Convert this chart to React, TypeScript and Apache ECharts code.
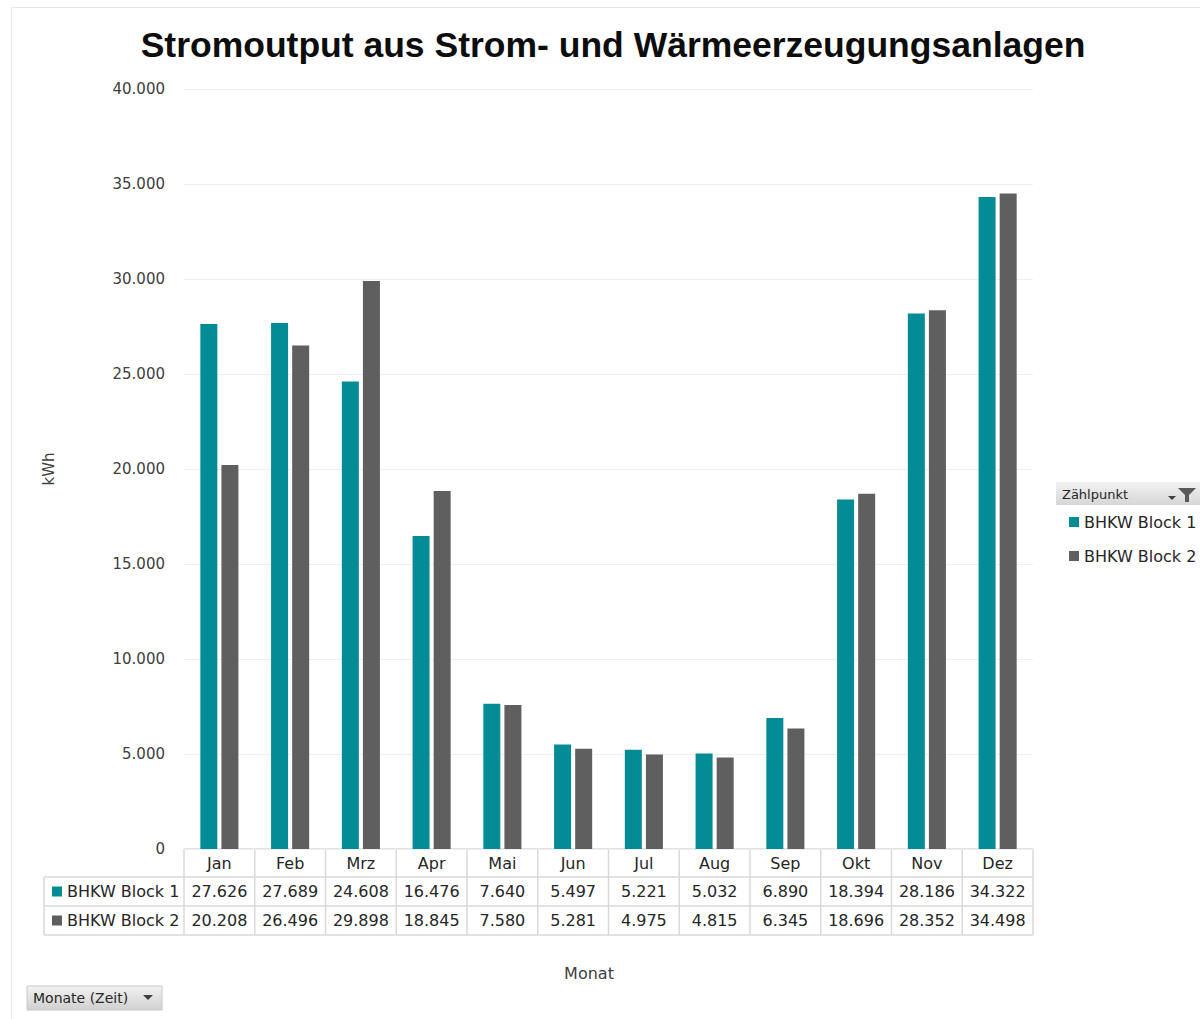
import React, { useEffect, useRef } from "react";
import * as echarts from "echarts";

const months = ["Jan", "Feb", "Mrz", "Apr", "Mai", "Jun", "Jul", "Aug", "Sep", "Okt", "Nov", "Dez"];
const block1 = [27626, 27689, 24608, 16476, 7640, 5497, 5221, 5032, 6890, 18394, 28186, 34322];
const block2 = [20208, 26496, 29898, 18845, 7580, 5281, 4975, 4815, 6345, 18696, 28352, 34498];
const seriesNames = ["BHKW Block 1", "BHKW Block 2"];
const yTicks = [0, 5000, 10000, 15000, 20000, 25000, 30000, 35000, 40000];

const TEAL = "#038C96";
const GRAY = "#5F5F5F";
const FONT = "'DejaVu Sans', 'Noto Sans', sans-serif";
const TITLE_FONT = "'Liberation Sans', Arial, sans-serif";

const fmt = (v: number) => {
  const s = String(Math.round(v));
  return s.replace(/\B(?=(\d{3})+(?!\d))/g, ".");
};

export default function App() {
  const ref = useRef<HTMLDivElement>(null);
  useEffect(() => {
    document.body.style.margin = "0";
    const chart = echarts.init(ref.current!, undefined, { renderer: "svg" });
    const gL = 184, gR = 1033, gT = 89, gB = 849;
    const colW = (gR - gL) / months.length;
    const rowH = 29;
    const lineColor = "#D9D9D9";
    const g: any[] = [];
    // frame
    g.push({ type: "rect", shape: { x: 11.5, y: 7.5, width: 1200, height: 1030 }, style: { fill: "none", stroke: "#E6E6E6", lineWidth: 1 }, silent: true });
    // table lines
    const yM = gB, y1 = gB + 28, y2 = y1 + rowH, y3 = y2 + rowH;
    g.push({ type: "line", shape: { x1: gL, y1: yM, x2: gR, y2: yM }, style: { stroke: lineColor, lineWidth: 1.5 } });
    [y1, y2, y3].forEach((y) => g.push({ type: "line", shape: { x1: 44, y1: y, x2: gR, y2: y }, style: { stroke: lineColor, lineWidth: 1.5 } }));
    for (let i = 0; i <= months.length; i++) {
      const x = gL + i * colW;
      g.push({ type: "line", shape: { x1: x, y1: yM, x2: x, y2: y3 }, style: { stroke: lineColor, lineWidth: 1.5 } });
    }
    g.push({ type: "line", shape: { x1: 44, y1: y1, x2: 44, y2: y3 }, style: { stroke: lineColor, lineWidth: 1.5 } });
    // row labels and values
    [block1, block2].forEach((arr, r) => {
      const yc = y1 + rowH * r + rowH / 2;
      g.push({ type: "rect", shape: { x: 52, y: yc - 5, width: 10, height: 10 }, style: { fill: r === 0 ? TEAL : GRAY } });
      g.push({ type: "text", x: 67, y: yc, style: { text: seriesNames[r], fill: "#262626", font: `16px ${FONT}`, align: "left", verticalAlign: "middle" } });
      arr.forEach((v, i) => {
        g.push({ type: "text", x: gL + (i + 0.5) * colW, y: yc, style: { text: fmt(v), fill: "#262626", font: `16px ${FONT}`, align: "center", verticalAlign: "middle" } });
      });
    });
    // legend header
    g.push({ type: "rect", shape: { x: 1056, y: 482, width: 150, height: 23 }, style: { fill: { type: "linear", x: 0, y: 0, x2: 0, y2: 1, colorStops: [{ offset: 0, color: "#F2F2F2" }, { offset: 1, color: "#D6D6D6" }] } } });
    g.push({ type: "text", x: 1062, y: 494, style: { text: "Zählpunkt", fill: "#262626", font: `13px ${FONT}`, align: "left", verticalAlign: "middle" } });
    g.push({ type: "polygon", shape: { points: [[1168, 496], [1176, 496], [1172, 500]] }, style: { fill: "#404040" } });
    g.push({ type: "polygon", shape: { points: [[1178, 488], [1196, 488], [1189, 495], [1189, 502], [1185, 502], [1185, 495]] }, style: { fill: "#595959" } });
    // Monate button
    g.push({ type: "rect", shape: { x: 27, y: 986, width: 135, height: 24 }, style: { fill: { type: "linear", x: 0, y: 0, x2: 0, y2: 1, colorStops: [{ offset: 0, color: "#F2F2F2" }, { offset: 1, color: "#D0D0D0" }] }, stroke: "#C8C8C8" } });
    g.push({ type: "text", x: 33, y: 998, style: { text: "Monate (Zeit)", fill: "#262626", font: `14px ${FONT}`, align: "left", verticalAlign: "middle" } });
    g.push({ type: "polygon", shape: { points: [[143, 995], [153, 995], [148, 1000]] }, style: { fill: "#404040" } });
    // x axis name
    g.push({ type: "text", x: 589, y: 973, style: { text: "Monat", fill: "#404040", font: `16px ${FONT}`, align: "center", verticalAlign: "middle" } });

    chart.setOption({
      animation: false,
      backgroundColor: "#FFFFFF",
      title: {
        text: "Stromoutput aus Strom- und Wärmeerzeugungsanlagen",
        left: 608, top: 22, textAlign: "center",
        textStyle: { fontFamily: TITLE_FONT, fontSize: 35.5, fontWeight: "bold", color: "#0D0D0D" },
      },
      legend: {
        orient: "vertical", left: 1064, top: 509, itemWidth: 10, itemHeight: 10, itemGap: 18,
        icon: "rect",
        textStyle: { fontFamily: FONT, fontSize: 16, color: "#262626" },
        data: seriesNames,
      },
      grid: { left: gL, right: 1200 - gR, top: gT, bottom: 1019 - gB, containLabel: false },
      xAxis: {
        type: "category",
        data: months,
        axisLine: { show: false },
        axisTick: { show: false },
        axisLabel: { fontFamily: FONT, fontSize: 16, color: "#262626", margin: 6, interval: 0 },
      },
      yAxis: {
        type: "value",
        min: yTicks[0], max: yTicks[yTicks.length - 1], interval: 5000,
        name: "kWh", nameLocation: "middle", nameGap: 128, nameRotate: 90,
        nameTextStyle: { fontFamily: FONT, fontSize: 15, color: "#404040" },
        axisLabel: { fontFamily: FONT, fontSize: 15, color: "#404040", margin: 19, formatter: (v: number) => fmt(v) },
        splitLine: { lineStyle: { color: "#EFEFEF", width: 1 } },
        axisLine: { show: false }, axisTick: { show: false },
      },
      series: [
        { name: seriesNames[0], type: "bar", data: block1, barWidth: 17, barGap: "24%", itemStyle: { color: TEAL } },
        { name: seriesNames[1], type: "bar", data: block2, barWidth: 17, barGap: "24%", itemStyle: { color: GRAY } },
      ],
      graphic: g,
    });
    return () => chart.dispose();
  }, []);
  return <div ref={ref} style={{ width: 1200, height: 1019 }} />;
}
